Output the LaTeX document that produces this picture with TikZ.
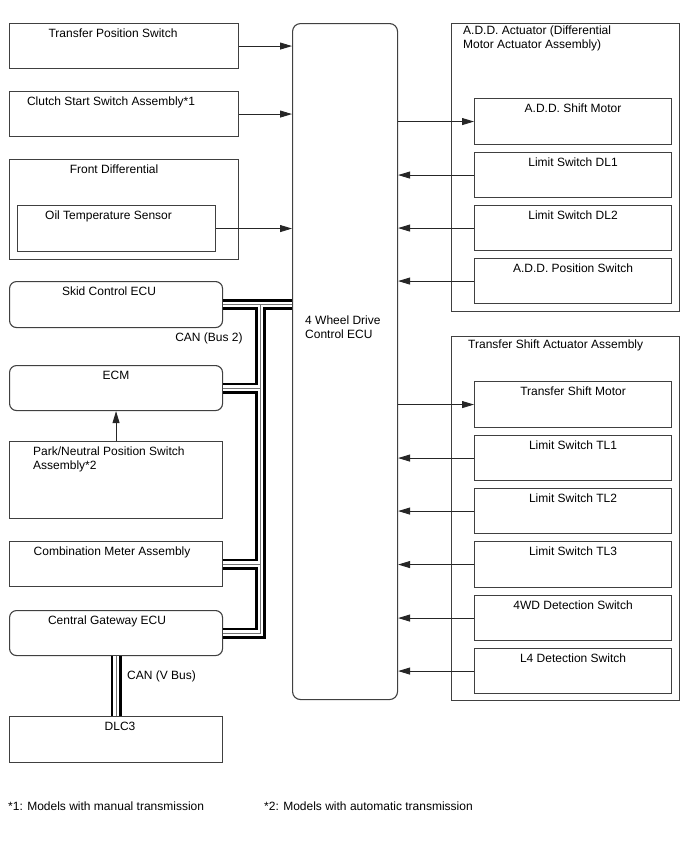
\documentclass[tikz,border=0pt]{standalone}
\usepackage{fontspec}
\setmainfont{Liberation Sans}
\usetikzlibrary{positioning, calc, arrows.meta}
\tikzset{
	unitbox/.style={draw=black!75, line width=1.1pt, inner sep=0pt, anchor=north west}
}
\tikzset{
	ecubox/.style={unitbox, rounded corners=7pt}
}
\tikzset{
	wh/.style 2 args={minimum width=#1pt, minimum height=#2pt}
}
\tikzset{
	boxtext/.style={font=\fontsize{12}{14}\selectfont, inner sep=0pt, text height=9pt, text depth=3pt, anchor=north, yshift=-5pt}
}
\tikzset{
	blocktext/.style={font=\fontsize{12}{13.5}\selectfont, inner sep=0pt, align=left, anchor=north west}
}
\tikzset{
	sigline/.style={draw=black!85, line width=0.9pt, -{Triangle[length=12pt, width=7pt]}}
}
\tikzset{
	canbus/.style={draw=black, line width=11pt, postaction={draw=white, line width=5.5pt}, postaction={draw=black!55, line width=1.1pt}}
}

\begin{document}
\begin{tikzpicture}[x=1pt, y=-1pt]
	\useasboundingbox (0,0) rectangle (688,852);
	\node[unitbox, wh={229}{45}, label={[boxtext, xshift=-11pt]north:Transfer Position Switch}] (tps) at (9,23) {};
	\node[unitbox, wh={229}{45}, label={[boxtext, xshift=-13pt]north:Clutch Start Switch Assembly*1}] (clutch) at (9,91) {};
	\node[unitbox, wh={229}{100}, label={[boxtext, xshift=-10pt]north:Front Differential}] (frontdiff) at (9,159) {};
	\node[unitbox, wh={198}{46}, label={[boxtext, xshift=-8pt]north:Oil Temperature Sensor}] (oilsensor) at (17,205) {};
	\node[ecubox, wh={213}{46}, label={[boxtext, xshift=-7pt]north:Skid Control ECU}] (skid) at (9,281) {};
	\node[ecubox, wh={213}{45}, label={[boxtext]north:ECM}] (ecm) at (9,365) {};
	\node[unitbox, wh={213}{77}, label={[blocktext, xshift=24pt, yshift=-6pt]north west:Park/Neutral Position Switch\\Assembly*2}] (pnp) at (9,441) {};
	\node[unitbox, wh={213}{45}, label={[boxtext, xshift=-4pt]north:Combination Meter Assembly}] (meter) at (9,541) {};
	\node[ecubox, wh={213}{45}, label={[boxtext, xshift=-9pt]north:Central Gateway ECU}] (gateway) at (9,610) {};
	\node[unitbox, wh={213}{46}, label={[boxtext, xshift=4pt]north:DLC3}] (dlc) at (9,716) {};

	\node[ecubox, rounded corners=8pt, wh={105}{676}, label={[blocktext, xshift=13pt, yshift=-293pt]north west:4 Wheel Drive\\Control ECU}] (ecu) at (292,23) {};

	\node[unitbox, wh={228}{288}, label={[blocktext, xshift=12pt, yshift=-3pt]north west:A.D.D. Actuator (Differential\\Motor Actuator Assembly)}] (addact) at (451,23) {};
	\node[unitbox, wh={197}{46}, label={[boxtext]north:A.D.D. Shift Motor}] (addmotor) at (474,98) {};
	\node[unitbox, wh={197}{45}, label={[boxtext]north:Limit Switch DL1}] (dlone) at (474,152) {};
	\node[unitbox, wh={197}{45}, label={[boxtext]north:Limit Switch DL2}] (dltwo) at (474,205) {};
	\node[unitbox, wh={197}{45}, label={[boxtext]north:A.D.D. Position Switch}] (addpos) at (474,258) {};

	\node[unitbox, wh={228}{364}, label={[blocktext, xshift=17pt, yshift=-4pt]north west:Transfer Shift Actuator Assembly}] (tsact) at (451,336) {};
	\node[unitbox, wh={197}{46}, label={[boxtext]north:Transfer Shift Motor}] (tsmotor) at (474,381) {};
	\node[unitbox, wh={197}{45}, label={[boxtext]north:Limit Switch TL1}] (tlone) at (474,435) {};
	\node[unitbox, wh={197}{45}, label={[boxtext]north:Limit Switch TL2}] (tltwo) at (474,488) {};
	\node[unitbox, wh={197}{46}, label={[boxtext]north:Limit Switch TL3}] (tlthree) at (474,541) {};
	\node[unitbox, wh={197}{45}, label={[boxtext]north:4WD Detection Switch}] (detfour) at (474,595) {};
	\node[unitbox, wh={197}{45}, label={[boxtext]north:L4 Detection Switch}] (detlow) at (474,648) {};

	\draw[sigline] (tps.east) -- (tps.east -| ecu.west);
	\draw[sigline] (clutch.east) -- (clutch.east -| ecu.west);
	\draw[sigline] (oilsensor.east) -- (oilsensor.east -| ecu.west);
	\draw[sigline] (pnp.north) -- (ecm.south);
	\draw[sigline] (ecu.east |- addmotor.west) -- (addmotor.west);
	\draw[sigline] (dlone.west) -- (dlone.west -| ecu.east);
	\draw[sigline] (dltwo.west) -- (dltwo.west -| ecu.east);
	\draw[sigline] (addpos.west) -- (addpos.west -| ecu.east);
	\draw[sigline] (ecu.east |- tsmotor.west) -- (tsmotor.west);
	\draw[sigline] (tlone.west) -- (tlone.west -| ecu.east);
	\draw[sigline] (tltwo.west) -- (tltwo.west -| ecu.east);
	\draw[sigline] (tlthree.west) -- (tlthree.west -| ecu.east);
	\draw[sigline] (detfour.west) -- (detfour.west -| ecu.east);
	\draw[sigline] (detlow.west) -- (detlow.west -| ecu.east);

	\coordinate (trunk) at (260.5,304);
	\draw[canbus] (skid.east) -- (skid.east -| ecu.west)
		(trunk) -- (trunk |- gateway.east) -- (gateway.east)
		(ecm.east) -- (ecm.east -| trunk)
		(meter.east) -- (meter.east -| trunk)
		(gateway.south) -- (dlc.north);
	\node[font=\fontsize{12}{14}\selectfont, inner sep=0pt] (bustwo) at (209,338) {CAN (Bus 2)};
	\node[font=\fontsize{12}{14}\selectfont, inner sep=0pt, anchor=west] (vbus) at (127,676) {CAN (V Bus)};

	\node[font=\fontsize{12}{14}\selectfont, inner sep=0pt, anchor=west] (noteone) at (8,806) {*1: Models with manual transmission};
	\node[font=\fontsize{12}{14}\selectfont, inner sep=0pt, anchor=west] (notetwo) at (264,806) {*2: Models with automatic transmission};
\end{tikzpicture}
\end{document}
